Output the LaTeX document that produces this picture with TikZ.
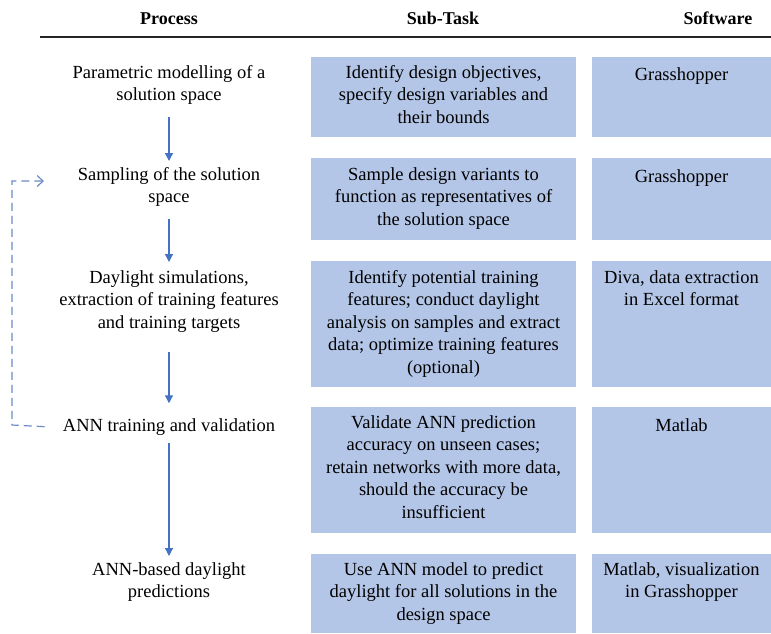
\documentclass[tikz,border=0pt]{standalone}
\usepackage{fontspec}
\setmainfont{Liberation Serif}
\usetikzlibrary{arrows.meta}
\definecolor{boxblue}{HTML}{B4C6E7}
\definecolor{arrowblue}{HTML}{4472C4}
\definecolor{dashblue}{HTML}{6A8AC8}
\begin{document}
\begin{tikzpicture}[x=1pt,y=-1pt,
  txt/.style={font=\fontsize{18.5}{22.5}\selectfont, align=center, inner sep=0pt, anchor=north, execute at begin node=\strut},
  hdr/.style={font=\fontsize{18}{22}\selectfont\bfseries, inner sep=0pt, anchor=base},
  cell/.style={fill=boxblue, draw=none, inner sep=0pt, anchor=north west},
  arr/.style={arrowblue, line width=1.2pt, -{Triangle[length=8pt,width=8pt]}, shorten <=11pt, shorten >=6pt},
  fb/.style={dashblue, line width=1.2pt, dash pattern=on 8pt off 5pt, -{Straight Barb[length=6pt,width=11pt]}}
]
\useasboundingbox (0,0) rectangle (771,633);

% headers
\node[hdr] (h1) at (169,24) {Process};
\node[hdr] (h2) at (443,24) {Sub-Task};
\node[hdr] (h3) at (718,24) {Software};
\coordinate (ruleL) at (40,37);
\coordinate (ruleR) at (771,37);
\draw[line width=1.4pt, black!85] (ruleL) -- (ruleR);

% boxes
\node[cell, minimum width=265, minimum height=80] (s1) at (311,57) {};
\node[cell, minimum width=179, minimum height=80] (w1) at (592,57) {};
\node[cell, minimum width=265, minimum height=82] (s2) at (311,158) {};
\node[cell, minimum width=179, minimum height=82] (w2) at (592,158) {};
\node[cell, minimum width=265, minimum height=126] (s3) at (311,261) {};
\node[cell, minimum width=179, minimum height=126] (w3) at (592,261) {};
\node[cell, minimum width=265, minimum height=126] (s4) at (311,407) {};
\node[cell, minimum width=179, minimum height=126] (w4) at (592,407) {};
\node[cell, minimum width=265, minimum height=79] (s5) at (311,554) {};
\node[cell, minimum width=179, minimum height=79] (w5) at (592,554) {};

% process column
\node[txt] (p1) at (169,65) {Parametric modelling of a\\solution space};
\node[txt] (p2) at (169,167) {Sampling of the solution\\space};
\node[txt] (p3) at (169,270) {Daylight simulations,\\extraction of training features\\and training targets};
\node[txt] (p4) at (169,415.25) {ANN training and validation};
\node[txt] (p5) at (169,562) {ANN-based daylight\\predictions};

% sub-task column
\node[txt] (t1) at (443.5,65) {Identify design objectives,\\specify design variables and\\their bounds};
\node[txt] (t2) at (443.5,167) {Sample design variants to\\function as representatives of\\the solution space};
\node[txt] (t3) at (443.5,270) {Identify potential training\\features; conduct daylight\\analysis on samples and extract\\data; optimize training features\\(optional)};
\node[txt] (t4) at (443.5,415.25) {Validate ANN prediction\\accuracy on unseen cases;\\retain networks with more data,\\should the accuracy be\\insufficient};
\node[txt] (t5) at (443.5,562) {Use ANN model to predict\\daylight for all solutions in the\\design space};

% software column
\node[txt] (u1) at (681.5,65) {Grasshopper};
\node[txt] (u2) at (681.5,167) {Grasshopper};
\node[txt] (u3) at (681.5,270) {Diva, data extraction\\in Excel format};
\node[txt] (u4) at (681.5,415.25) {Matlab};
\node[txt] (u5) at (681.5,562) {Matlab, visualization\\in Grasshopper};

% flow arrows
\draw[arr, shorten <=9pt, shorten >=6pt] (p1.south) -- (p2.north);
\draw[arr, shorten <=9pt, shorten >=8pt] (p2.south) -- (p3.north);
\draw[arr, shorten <=17pt, shorten >=12pt] (p3.south) -- (p4.north);
\draw[arr, shorten <=5pt, shorten >=6pt] (p4.south) -- (p5.north);

% feedback loop
\coordinate (fbA) at (12,425);
\coordinate (fbB) at (12,181);
\coordinate (fbT) at (44,181);
\draw[fb] ([xshift=-18pt]p4.west) -- (fbA) -- (fbB) -- (fbT);
\end{tikzpicture}
\end{document}
